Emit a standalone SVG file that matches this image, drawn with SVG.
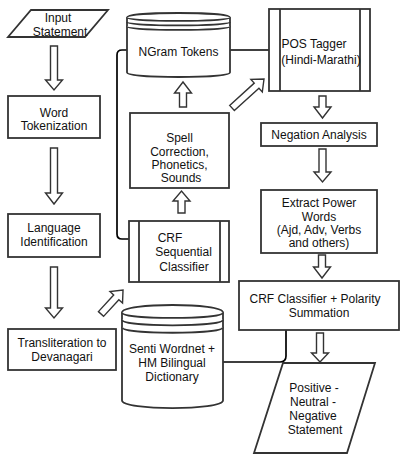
<svg xmlns="http://www.w3.org/2000/svg" width="418" height="473" viewBox="0 0 418 473">
<style>
.box{fill:#fff;stroke:#333;stroke-width:1.8}
.arr{fill:#fff;stroke:#333;stroke-width:1.4;stroke-linejoin:miter}
.conn{fill:none;stroke:#000;stroke-width:1.7}
text{font-family:"Liberation Sans",Arial,sans-serif;font-size:12px;fill:#111;text-anchor:middle}
</style>
<rect width="418" height="473" fill="#fff"/>
<g id="connectors">
<path class="conn" d="M127,50 H122 Q117,50 117,55 V234 Q117,239 122,239 H129"/>
<path class="conn" d="M230,50 H269"/>
<path class="conn" d="M223,362 H280 Q286,362 286,356 V330"/>
<polygon class="arr" points="50.5,46 57.5,46 57.5,80 62.5,80 54,90 45.5,80 50.5,80"/>
<polygon class="arr" points="50.5,148 57.5,148 57.5,193 62.5,193 54,204 45.5,193 50.5,193"/>
<polygon class="arr" points="50.5,267 57.5,267 57.5,308 62.5,308 54,318 45.5,308 50.5,308"/>
<polygon class="arr" points="178,213 185,213 185,201 190,201 181.5,191 173,201 178,201"/>
<polygon class="arr" points="179.5,107 186.5,107 186.5,93 191.5,93 183,82 174.5,93 179.5,93"/>
<polygon class="arr" points="319,96 326,96 326,107 331,107 322.5,118 314,107 319,107"/>
<polygon class="arr" points="319,149 326,149 326,172 331,172 322.5,182 314,172 319,172"/>
<polygon class="arr" points="318.5,255 325.5,255 325.5,267 330.5,267 322,278 313.5,267 318.5,267"/>
<polygon class="arr" points="316.5,333 323.5,333 323.5,353 328.5,353 320,362 311.5,353 316.5,353"/>
<polygon class="arr" transform="translate(101,314) rotate(-47.5)" points="0,-3.5 22.6,-3.5 22.6,-8.5 32.6,0 22.6,8.5 22.6,3.5 0,3.5"/>
<polygon class="arr" transform="translate(232,108) rotate(-42.2)" points="0,-3.5 33.2,-3.5 33.2,-8.5 43.2,0 33.2,8.5 33.2,3.5 0,3.5"/>
</g>
<g id="input-statement">
<polygon class="box" points="31,10 108,10 85,37 8,37"/>
<text x="58" y="22">Input</text>
<text x="60" y="36">Statement</text>
</g>
<g id="word-tokenization">
<rect class="box" x="8" y="96" width="92" height="42"/>
<text x="54" y="117">Word</text>
<text x="54" y="130">Tokenization</text>
</g>
<g id="language-identification">
<rect class="box" x="8" y="214" width="92" height="43"/>
<text x="54" y="232">Language</text>
<text x="54" y="246">Identification</text>
</g>
<g id="transliteration">
<rect class="box" x="8" y="329" width="108" height="41"/>
<text x="62" y="347">Transliteration to</text>
<text x="62" y="361">Devanagari</text>
</g>
<g id="ngram-tokens">
<path class="box" d="M127,17.5 C127,11.5 230,11.5 230,17.5 L230,72.5 C230,78.5 127,78.5 127,72.5 Z"/>
<path class="box" fill="none" d="M127,17.5 C127,22 230,22 230,17.5 M127,22 C127,26.5 230,26.5 230,22 M127,26.5 C127,31 230,31 230,26.5"/>
<text x="178.5" y="56">NGram Tokens</text>
</g>
<g id="spell-correction">
<rect class="box" x="130" y="113" width="99" height="75"/>
<text x="179.5" y="142">Spell</text>
<text x="179.5" y="156">Correction,</text>
<text x="179.5" y="169">Phonetics,</text>
<text x="181" y="182">Sounds</text>
</g>
<g id="crf-sequential">
<rect class="box" x="129" y="221" width="100" height="61"/>
<path class="box" d="M139,221 V282 M220,221 V282"/>
<text x="170" y="242">CRF</text>
<text x="183.5" y="256">Sequential</text>
<text x="184" y="271">Classifier</text>
</g>
<g id="senti-wordnet">
<path class="box" d="M122,312.4 C122,302.5 223,302.5 223,312.4 L223,400.6 C223,410.5 122,410.5 122,400.6 Z"/>
<path class="box" fill="none" d="M122,312.4 C122,319.8 223,319.8 223,312.4 M122,319.8 C122,327.2 223,327.2 223,319.8 M122,327.2 C122,334.6 223,334.6 223,327.2"/>
<text x="172" y="353">Senti Wordnet +</text>
<text x="172" y="367">HM Bilingual</text>
<text x="172" y="381">Dictionary</text>
</g>
<g id="pos-tagger">
<rect class="box" x="269" y="9" width="101" height="82"/>
<path class="box" d="M280,9 V91 M360,9 V91"/>
<text x="314" y="48">POS Tagger</text>
<text x="321" y="64">(Hindi-Marathi)</text>
</g>
<g id="negation-analysis">
<rect class="box" x="261" y="123" width="116" height="23"/>
<text x="319" y="139">Negation Analysis</text>
</g>
<g id="extract-power-words">
<rect class="box" x="261" y="190" width="116" height="63"/>
<text x="319" y="207">Extract Power</text>
<text x="319" y="221">Words</text>
<text x="319" y="234">(Ajd, Adv, Verbs</text>
<text x="319" y="247">and others)</text>
</g>
<g id="crf-classifier">
<rect class="box" x="239" y="281" width="160" height="49"/>
<text x="315" y="303">CRF Classifier + Polarity</text>
<text x="319" y="317">Summation</text>
</g>
<g id="output-statement">
<polygon class="box" points="283,363 375,363 347,453 254,453"/>
<text x="314" y="392">Positive -</text>
<text x="313" y="406">Neutral -</text>
<text x="313" y="420">Negative</text>
<text x="315" y="434">Statement</text>
</g>
</svg>
